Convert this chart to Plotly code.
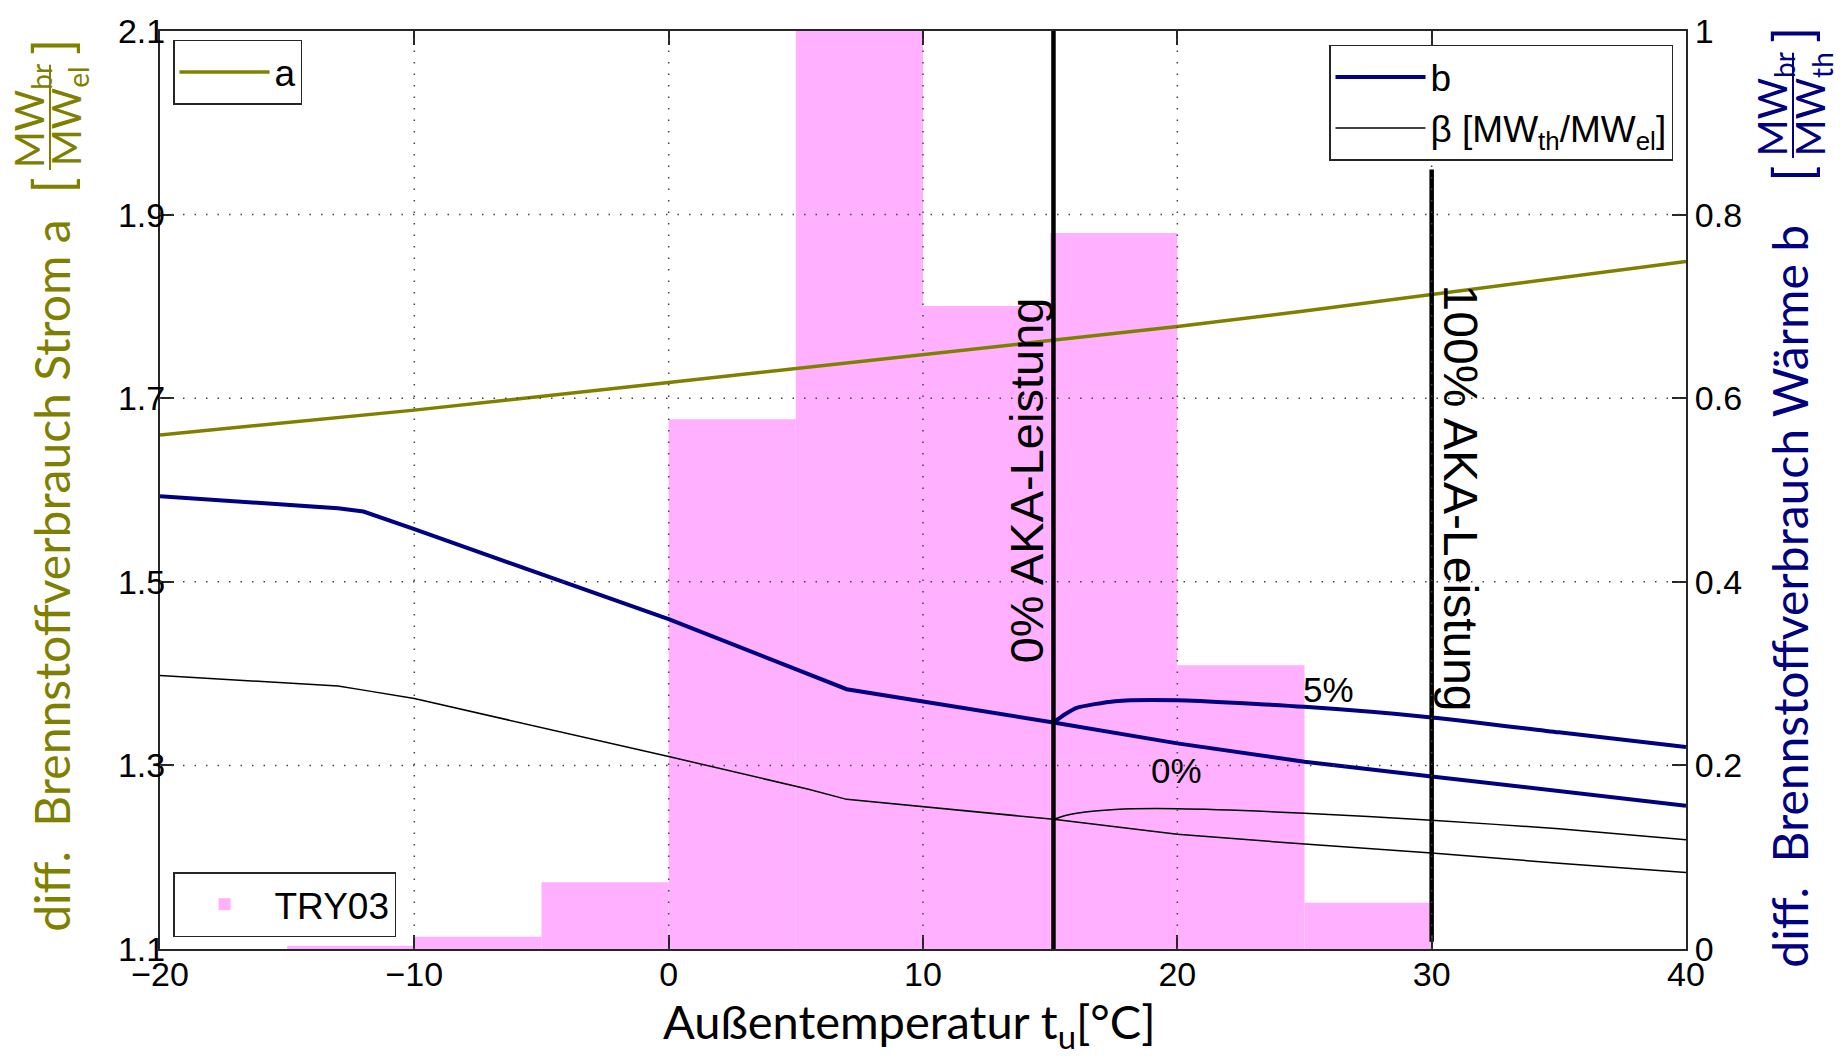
import plotly.graph_objects as go

# ---------------- data ----------------
x_ticks = [-20, -10, 0, 10, 20, 30, 40]
y_left_ticks = [1.1, 1.3, 1.5, 1.7, 1.9, 2.1]
y_left_labels = ["1.1", "1.3", "1.5", "1.7", "1.9", "2.1"]
y_right_ticks = [0, 0.2, 0.4, 0.6, 0.8, 1.0]
y_right_labels = ["0", "0.2", "0.4", "0.6", "0.8", "1"]

# TRY03 histogram (5 K classes, normalised, right axis)
hist_left = [-15, -10, -5, 0, 5, 10, 15, 20, 25]
hist_width = 5
hist_values = [0.0036, 0.0133, 0.0728, 0.577, 1.0, 0.7005, 0.780, 0.309, 0.0504]

# a  (left axis)
a_t = [-20, -13, -10, 0, 10, 15.13, 20, 25, 30, 40]
a_vals = [1.660, 1.679, 1.687, 1.717, 1.7476, 1.7627, 1.778, 1.795, 1.813, 1.849]

# b  (right axis), 0 % branch
b0_t = [-20, -13, -12, -10, 0, 7, 10, 15.13, 20, 25, 30, 35, 40]
b0_vals = [0.4933, 0.480, 0.4765, 0.4573, 0.3593, 0.283, 0.2696, 0.2468, 0.224, 0.204, 0.188, 0.172, 0.156]
# b, 5 % branch
b5_t = [15.13, 15.6, 16.04, 17.55, 20, 25, 30, 35, 40]
b5_vals = [0.2468, 0.256, 0.2627, 0.270, 0.271, 0.2638, 0.2523, 0.236, 0.220]

# beta (right axis), 0 % branch
beta0_t = [-20, -13, -12, -10, 0, 5.5, 7, 15.13, 20, 25, 30, 35, 40]
beta0_vals = [0.298, 0.2865, 0.282, 0.2728, 0.2097, 0.174, 0.163, 0.1413, 0.1251, 0.1143, 0.1046, 0.0935, 0.0833]
# beta, 5 % branch
beta5_t = [15.13, 15.6, 16.04, 17.55, 20, 25, 30, 35, 40]
beta5_vals = [0.1413, 0.1455, 0.148, 0.152, 0.1528, 0.148, 0.1402, 0.131, 0.1189]

# AKA marker lines (left-axis units)
aka_x = [15.13, 30]
aka_bottom = [1.1, 1.108]
aka_top = [2.1, 1.949]
aka_labels = ["0% AKA-Leistung", "100% AKA-Leistung"]

# ---------------- style ----------------
OLIVE = "#808000"
NAVY = "#000080"
PINK = "#FFB0FF"
AX = "#262626"
TICKFONT = dict(family="Liberation Sans, Arial, sans-serif", size=34, color="black")
TITLEFAM = "Lato, sans-serif"
LEGFONT = dict(family="Liberation Sans, Arial", size=37, color="black")

L, R, T, B = 160, 154, 24, 108
W, H = 1840, 1057
PW, PH = W - L - R, H - T - B


def px(x):
    return (x - L) / PW


def py(y):
    return (H - B - y) / PH


fig = go.Figure()

fig.add_trace(go.Bar(
    x=[l + hist_width / 2 for l in hist_left], y=hist_values,
    width=[hist_width] * len(hist_left),
    marker=dict(color=PINK, line=dict(width=0)),
    name="TRY03", legend="legend3", xaxis="x", yaxis="y"))

fig.add_trace(go.Scatter(x=b0_t, y=b0_vals, mode="lines", name="b",
                         line=dict(color=NAVY, width=4), legend="legend2",
                         legendgroup="b", yaxis="y"))
fig.add_trace(go.Scatter(x=b5_t, y=b5_vals, mode="lines", name="b",
                         line=dict(color=NAVY, width=4, shape="spline", smoothing=0.6),
                         legend="legend2", legendgroup="b", showlegend=False, yaxis="y"))
fig.add_trace(go.Scatter(x=beta0_t, y=beta0_vals, mode="lines",
                         name="β [MW<sub>th</sub>/MW<sub>el</sub>]",
                         line=dict(color="black", width=1.5), legend="legend2",
                         legendgroup="beta", yaxis="y"))
fig.add_trace(go.Scatter(x=beta5_t, y=beta5_vals, mode="lines", name="beta5",
                         line=dict(color="black", width=1.5, shape="spline", smoothing=0.6),
                         legend="legend2", legendgroup="beta", showlegend=False, yaxis="y"))

fig.add_trace(go.Scatter(x=a_t, y=a_vals, mode="lines", name="a",
                         line=dict(color=OLIVE, width=3.5), legend="legend", yaxis="y2"))

for vx, y0, y1 in zip(aka_x, aka_bottom, aka_top):
    fig.add_trace(go.Scatter(x=[vx, vx], y=[y0, y1], mode="lines",
                             line=dict(color="black", width=4.5),
                             showlegend=False, hoverinfo="skip", yaxis="y2"))

# dotted grid drawn above the bars (MATLAB style)
GRID = dict(color="#444444", width=1.5, dash="1.5px,10px")
for gx in x_ticks[1:-1]:
    fig.add_shape(type="line", xref="x", yref="paper", x0=gx, x1=gx, y0=0, y1=1,
                  line=GRID, layer="above")
for gy in y_right_ticks[1:-1]:
    fig.add_shape(type="line", xref="paper", yref="y", x0=0, x1=1, y0=gy, y1=gy,
                  line=GRID, layer="above")

axis_common = dict(ticks="inside", ticklen=14, tickwidth=1.5, tickcolor=AX,
                   showline=True, linecolor=AX, linewidth=2, showgrid=False,
                   zeroline=False, tickfont=TICKFONT)

fig.update_layout(
    width=W, height=H, autosize=False,
    margin=dict(l=L, r=R, t=T, b=B, pad=0),
    plot_bgcolor="white", paper_bgcolor="white",
    barmode="overlay",
    xaxis=dict(range=[-20, 40], tickvals=x_ticks, mirror="ticks",
               ticklabelstandoff=-6, **axis_common),
    yaxis=dict(range=[0, 1], side="right", tickvals=y_right_ticks,
               ticktext=y_right_labels, ticklabelstandoff=0, **axis_common),
    yaxis2=dict(range=[1.1, 2.1], side="left", overlaying="y",
                tickvals=y_left_ticks, ticktext=y_left_labels,
                ticklabelstandoff=-14, **axis_common),
    legend=dict(x=px(173), y=py(33), xanchor="left", yanchor="top",
                bgcolor="white", bordercolor=AX, borderwidth=1.5,
                font=LEGFONT, itemwidth=90, tracegroupgap=0),
    legend2=dict(x=px(1673), y=py(38), xanchor="right", yanchor="top",
                 bgcolor="white", bordercolor=AX, borderwidth=1.5,
                 font=LEGFONT, itemwidth=90, tracegroupgap=0),
    legend3=dict(x=px(173), y=py(937), xanchor="left", yanchor="bottom",
                 bgcolor="white", bordercolor=AX, borderwidth=1.5,
                 font=LEGFONT, itemwidth=90, tracegroupgap=0),
    showlegend=True,
)

ann = []
# AKA labels
ann.append(dict(x=aka_x[0], y=1.611, xref="x", yref="y2", text=aka_labels[0],
                textangle=-90, xshift=-27, showarrow=False, xanchor="center", yanchor="middle",
                font=dict(family="Liberation Sans, Arial", size=47, color="black")))
ann.append(dict(x=aka_x[1], y=1.591, xref="x", yref="y2", text=aka_labels[1],
                textangle=90, xshift=29, showarrow=False, xanchor="center", yanchor="middle",
                font=dict(family="Liberation Sans, Arial", size=48, color="black")))
# branch labels
ann.append(dict(x=25.95, y=0.2827, xref="x", yref="y", text="5%", showarrow=False,
                font=dict(family="Liberation Sans, Arial", size=35, color="black")))
ann.append(dict(x=19.95, y=0.1946, xref="x", yref="y", text="0%", showarrow=False,
                font=dict(family="Liberation Sans, Arial", size=35, color="black")))

# x axis title
ann.append(dict(x=px(909), y=py(1025), xref="paper", yref="paper",
                text="Außentemperatur t<sub>u</sub>[°C]", showarrow=False,
                xanchor="center", yanchor="middle",
                font=dict(family=TITLEFAM, size=47, color="black")))

# left axis title
ann.append(dict(x=px(52), y=py(573), xref="paper", yref="paper",
                text="diff.  Brennstoffverbrauch Strom a", textangle=-90, showarrow=False,
                xanchor="center", yanchor="middle",
                font=dict(family=TITLEFAM, size=48, color=OLIVE)))
ann.append(dict(x=px(31), y=py(110), xref="paper", yref="paper",
                text="MW<sub>br</sub>", textangle=-90, showarrow=False,
                xanchor="center", yanchor="middle",
                font=dict(family=TITLEFAM, size=40, color=OLIVE)))
ann.append(dict(x=px(68), y=py(110), xref="paper", yref="paper",
                text="MW<sub>el</sub>", textangle=-90, showarrow=False,
                xanchor="center", yanchor="middle",
                font=dict(family=TITLEFAM, size=40, color=OLIVE)))
ann.append(dict(x=px(52), y=py(180), xref="paper", yref="paper",
                text="[", textangle=-90, showarrow=False,
                xanchor="center", yanchor="middle",
                font=dict(family=TITLEFAM, size=54, color=OLIVE)))
ann.append(dict(x=px(52), y=py(40), xref="paper", yref="paper",
                text="]", textangle=-90, showarrow=False,
                xanchor="center", yanchor="middle",
                font=dict(family=TITLEFAM, size=54, color=OLIVE)))

# right axis title
ann.append(dict(x=px(1790), y=py(593), xref="paper", yref="paper",
                text="diff.  Brennstoffverbrauch Wärme b", textangle=-90, showarrow=False,
                xanchor="center", yanchor="middle",
                font=dict(family=TITLEFAM, size=48, color=NAVY)))
ann.append(dict(x=px(1774), y=py(98), xref="paper", yref="paper",
                text="MW<sub>br</sub>", textangle=-90, showarrow=False,
                xanchor="center", yanchor="middle",
                font=dict(family=TITLEFAM, size=40, color=NAVY)))
ann.append(dict(x=px(1812), y=py(98), xref="paper", yref="paper",
                text="MW<sub>th</sub>", textangle=-90, showarrow=False,
                xanchor="center", yanchor="middle",
                font=dict(family=TITLEFAM, size=40, color=NAVY)))
ann.append(dict(x=px(1792), y=py(168), xref="paper", yref="paper",
                text="[", textangle=-90, showarrow=False,
                xanchor="center", yanchor="middle",
                font=dict(family=TITLEFAM, size=54, color=NAVY)))
ann.append(dict(x=px(1792), y=py(28), xref="paper", yref="paper",
                text="]", textangle=-90, showarrow=False,
                xanchor="center", yanchor="middle",
                font=dict(family=TITLEFAM, size=54, color=NAVY)))
fig.update_layout(annotations=ann)

# fraction bars of the axis units
fig.add_shape(type="line", xref="paper", yref="paper", x0=px(50), x1=px(50),
              y0=py(58), y1=py(164), line=dict(color=OLIVE, width=2))
fig.add_shape(type="line", xref="paper", yref="paper", x0=px(1793), x1=px(1793),
              y0=py(46), y1=py(152), line=dict(color=NAVY, width=2))

fig.write_html("out.html", include_plotlyjs=True, full_html=True,
               config={"displayModeBar": False},
               post_script="document.body.style.margin='0';document.body.style.overflow='hidden';")
